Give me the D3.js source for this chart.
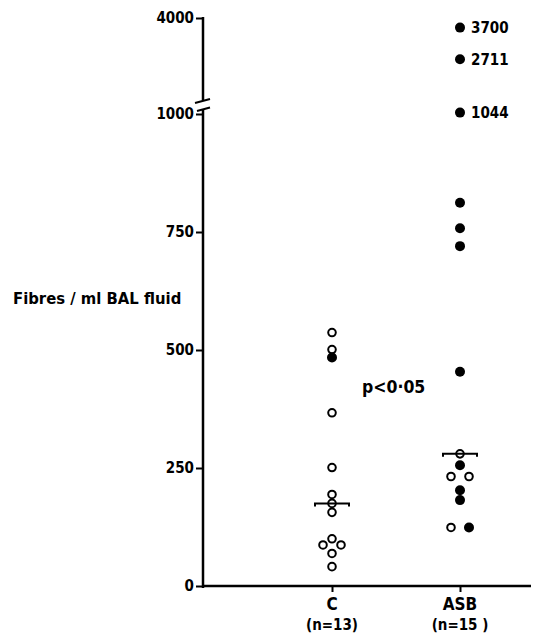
<!DOCTYPE html>
<html>
<head>
<meta charset="utf-8">
<script src="https://cdn.jsdelivr.net/npm/d3@7"></script>
<style>
  body { margin: 0; background: #fff; }
  text { font-family: "DejaVu Sans Condensed", "DejaVu Sans", sans-serif; font-stretch: condensed; font-weight: bold; fill: #000; }
</style>
</head>
<body>
<div id="chart"></div>
<script>
// groups on the x axis
var groups = ["C", "ASB"];
var groupNotes = ["(n=13)", "(n=15 )"];

// fibre counts per patient, with flag for filled (1) or open (0) marker
var c_values = [537, 501, 484, 367, 251, 194, 175, 156, 100, 87, 87, 69, 41];
var c_filled = [0, 0, 1, 0, 0, 0, 0, 0, 0, 0, 0, 0, 0];
var asb_values = [3700, 2711, 1044, 812, 758, 720, 454, 280, 256, 232, 232, 203, 182, 124, 124];
var asb_filled = [1, 1, 1, 1, 1, 1, 1, 0, 1, 0, 0, 1, 1, 0, 1];
var asb_labelled = [3700, 2711, 1044];

// medians drawn as brackets
var medians = [175, 280];

var lowTicks = [0, 250, 500, 750, 1000];
var highTicks = [4000];

var width = 541, height = 633;
var svg = d3.select("#chart").append("svg")
  .attr("width", width).attr("height", height);

var axisX = 203;
var x = d3.scalePoint().domain(groups).range([332, 460]);
// broken axis: 0-1000 on the long part, 1000-4000 squeezed on top
var y = d3.scaleLinear().domain([0, 1000, 4000]).range([586, 114, 18]);

// y axis, lower part
var lowAxis = svg.append("g")
  .attr("transform", "translate(" + axisX + ",0)")
  .call(d3.axisLeft(y).tickValues(lowTicks).tickSize(7).tickPadding(2).tickFormat(d3.format("d")));
lowAxis.select(".domain").remove();
lowAxis.append("line").attr("x1", 0).attr("x2", 0).attr("y1", 109).attr("y2", 588)
  .attr("stroke", "#000").attr("stroke-width", 2.5);

// upper part
var highAxis = svg.append("g")
  .attr("transform", "translate(" + axisX + ",0)")
  .call(d3.axisLeft(y).tickValues(highTicks).tickSize(7).tickPadding(2).tickFormat(d3.format("d")));
highAxis.select(".domain").remove();
highAxis.append("line").attr("x1", 0).attr("x2", 0).attr("y1", 17).attr("y2", 100)
  .attr("stroke", "#000").attr("stroke-width", 2.5);

svg.selectAll(".tick line").attr("stroke", "#000").attr("stroke-width", 2);
svg.selectAll(".tick text").style("font-size", "15px").attr("font-family", null).attr("font-size", null);

// break marks
svg.append("line").attr("x1", axisX - 8).attr("y1", 103).attr("x2", axisX + 7).attr("y2", 99)
  .attr("stroke", "#000").attr("stroke-width", 2);
svg.append("line").attr("x1", axisX - 6).attr("y1", 111).attr("x2", axisX + 7).attr("y2", 107.5)
  .attr("stroke", "#000").attr("stroke-width", 2);

// x axis
var xAxis = svg.append("g")
  .attr("transform", "translate(0," + y(0) + ")")
  .call(d3.axisBottom(x).tickSize(6).tickFormat(""));
xAxis.select(".domain").remove();
xAxis.append("line").attr("x1", axisX).attr("x2", 531).attr("y1", 0).attr("y2", 0)
  .attr("stroke", "#000").attr("stroke-width", 2.5);
xAxis.selectAll(".tick line").attr("stroke", "#000").attr("stroke-width", 2);

svg.selectAll(".grp").data(groups).enter().append("text")
  .attr("x", function(d) { return x(d); })
  .attr("y", 610)
  .attr("text-anchor", "middle")
  .style("font-size", "17px")
  .text(function(d) { return d; });
svg.selectAll(".note").data(groupNotes).enter().append("text")
  .attr("x", function(d, i) { return x(groups[i]); })
  .attr("y", 630)
  .attr("text-anchor", "middle")
  .style("font-size", "15px")
  .text(function(d) { return d; });

// y axis title
svg.append("text").attr("x", 13).attr("y", 304)
  .style("font-size", "16.5px")
  .text("Fibres / ml BAL fluid");

// points: equal values sit side by side
function placePoints(values, filled, group) {
  var pts = [];
  var counts = {};
  values.forEach(function(v) { counts[v] = (counts[v] || 0) + 1; });
  var seen = {};
  values.forEach(function(v, i) {
    var n = counts[v];
    var k = seen[v] || 0;
    seen[v] = k + 1;
    pts.push({ v: v, filled: filled[i], dx: (k - (n - 1) / 2) * 18, group: group });
  });
  return pts;
}
var points = placePoints(c_values, c_filled, "C").concat(placePoints(asb_values, asb_filled, "ASB"));

svg.selectAll(".pt").data(points).enter().append("circle")
  .attr("cx", function(d) { return x(d.group) + d.dx; })
  .attr("cy", function(d) { return y(d.v); })
  .attr("r", function(d) { return d.filled ? 5 : 3.8; })
  .attr("fill", function(d) { return d.filled ? "#000" : "#fff"; })
  .attr("stroke", "#000")
  .attr("stroke-width", function(d) { return d.filled ? 0 : 2; });

// value labels for the large counts
svg.selectAll(".vl").data(asb_labelled).enter().append("text")
  .attr("x", x("ASB") + 11)
  .attr("y", function(d) { return y(d) + 5.5; })
  .style("font-size", "15px")
  .text(function(d) { return d; });

// median brackets
medians.forEach(function(m, i) {
  var cx = x(groups[i]), cy = y(m);
  svg.append("path")
    .attr("d", "M" + (cx - 17) + "," + (cy + 3) + "V" + cy + "H" + (cx + 17) + "V" + (cy + 3))
    .attr("fill", "none").attr("stroke", "#000").attr("stroke-width", 2);
});

// significance
svg.append("text").attr("x", 362).attr("y", 393)
  .style("font-size", "17.5px")
  .text("p<0·05");
</script>
</body>
</html>
